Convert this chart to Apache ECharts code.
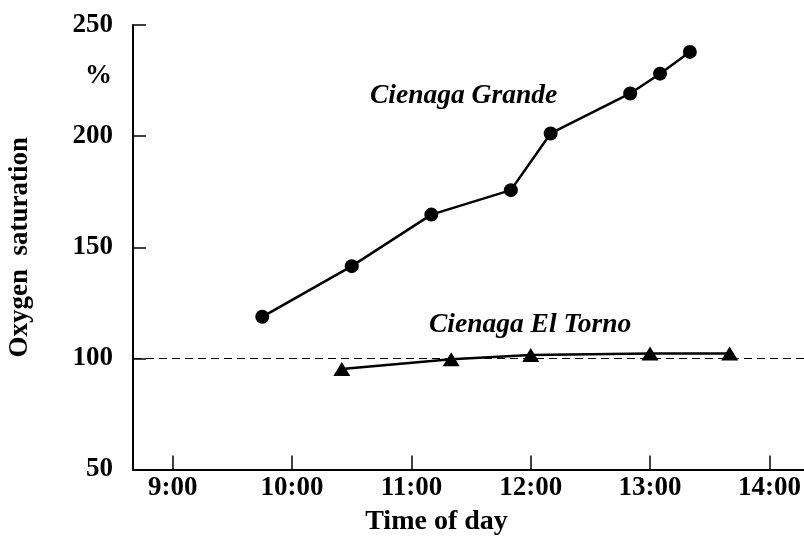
<!DOCTYPE html>
<html>
<head>
<meta charset="utf-8">
<script src="https://cdn.jsdelivr.net/npm/echarts@6/dist/echarts.min.js"></script>
<style>html,body{margin:0;padding:0;background:#fff}#c{width:804px;height:537px}</style>
</head>
<body>
<div id="c"></div>
<script>
// Data
var grandeTimes = ["9:45", "10:30", "11:10", "11:50", "12:10", "12:50", "13:05", "13:20"];
var grandeValues = [118.7, 141.5, 164.7, 175.7, 201.2, 219.2, 228.1, 237.9];
var tornoTimes = ["10:25", "11:20", "12:00", "13:00", "13:40"];
var tornoValues = [95.2, 99.6, 101.5, 102.2, 102.2];
var xTickHours = [9, 10, 11, 12, 13, 14];
var yTicks = [50, 100, 150, 200, 250];
var referenceLevel = 100;

function toHours(s) { var p = s.split(":"); return +p[0] + (+p[1]) / 60; }
function pairs(t, v) { return t.map(function (s, i) { return [toHours(s), v[i]]; }); }

var FONT = "'Liberation Serif', 'Times New Roman', serif";
var chart = echarts.init(document.getElementById('c'));
chart.setOption({
  animation: false,
  backgroundColor: '#fff',
  grid: { left: 133, right: 0, top: 25, bottom: 67.5, containLabel: false, outerBoundsMode: 'none' },
  xAxis: {
    type: 'value', min: 8 + 40 / 60, max: 14.29,
    name: 'Time of day', nameLocation: 'middle', nameGap: 38,
    nameTextStyle: { fontFamily: FONT, fontWeight: 'bold', fontSize: 28, color: '#000', padding: [0, 64, 0, 0] },
    axisLine: { show: true, lineStyle: { color: '#000', width: 2 } },
    axisTick: { show: true, inside: true, length: 14, customValues: xTickHours, lineStyle: { color: '#000', width: 1.5 } },
    axisLabel: { customValues: xTickHours, margin: 5, fontFamily: FONT, fontWeight: 'bold', fontSize: 27, color: '#000',
      formatter: function (v) { return Math.round(v) + ':00'; } },
    splitLine: { show: false }
  },
  yAxis: {
    type: 'value', min: 50, max: 250, interval: 50,
    name: 'Oxygen  saturation', nameLocation: 'middle', nameGap: 99, nameRotate: 90,
    nameTextStyle: { fontFamily: FONT, fontWeight: 'bold', fontSize: 27, color: '#000' },
    axisLine: { show: true, lineStyle: { color: '#000', width: 2 } },
    axisTick: { show: true, inside: true, length: 13, lineStyle: { color: '#000', width: 1.5 } },
    axisLabel: { margin: 20, fontFamily: FONT, fontWeight: 'bold', fontSize: 27, color: '#000',
      formatter: function (v) { return yTicks.indexOf(v) >= 0 ? String(v) : ''; } },
    splitLine: { show: false }
  },
  graphic: [
    { type: 'text', left: 85, top: 63, style: { text: '%', font: "bold 27px " + FONT, fill: '#000' } },
    { type: 'text', left: 370, top: 82, style: { text: 'Cienaga Grande', font: "italic bold 27.5px " + FONT, fill: '#000' } },
    { type: 'text', left: 429, top: 311, style: { text: 'Cienaga El Torno', font: "italic bold 27.5px " + FONT, fill: '#000' } }
  ],
  series: [
    {
      type: 'line', data: pairs(grandeTimes, grandeValues),
      symbol: 'circle', symbolSize: 14,
      lineStyle: { color: '#000', width: 2.5 }, itemStyle: { color: '#000' },
      markLine: {
        silent: true, symbol: 'none', label: { show: false },
        lineStyle: { color: '#000', width: 1, type: [8, 5] },
        data: [{ yAxis: referenceLevel }]
      }
    },
    {
      type: 'line', data: pairs(tornoTimes, tornoValues),
      symbol: 'triangle', symbolSize: [17, 14],
      lineStyle: { color: '#000', width: 2.5 }, itemStyle: { color: '#000' }
    }
  ]
});
</script>
</body>
</html>
